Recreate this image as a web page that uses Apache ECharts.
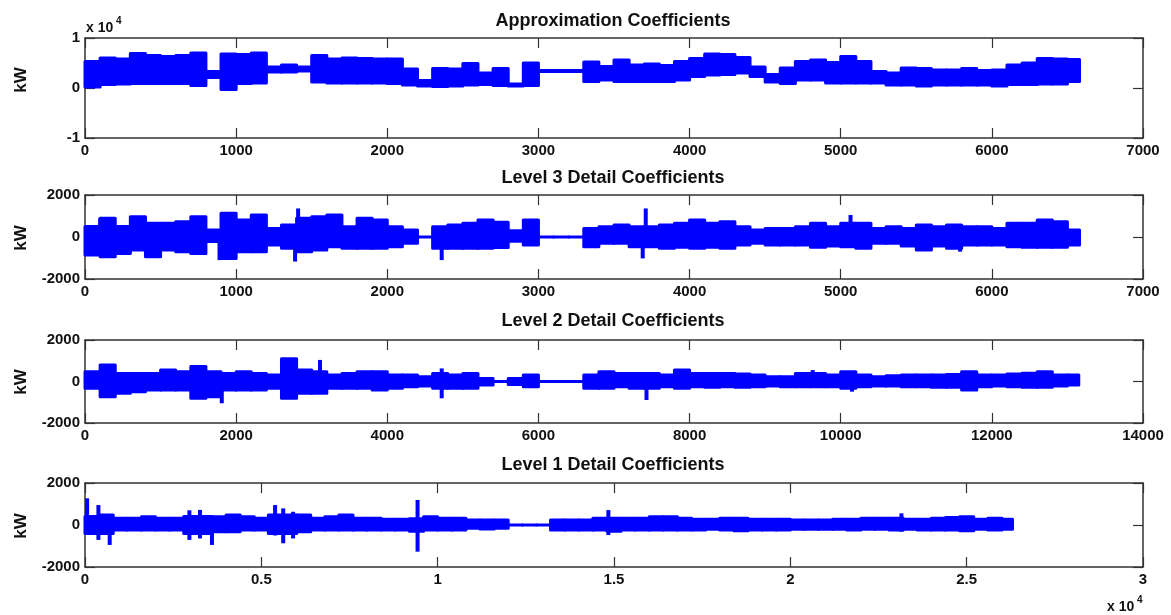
<!DOCTYPE html>
<html>
<head>
<meta charset="utf-8">
<title>Wavelet coefficients</title>
<script src="https://cdn.jsdelivr.net/npm/echarts@6.0.0/dist/echarts.min.js"></script>
<style>
  body { margin: 0; background: #fff; }
  #main { width: 1171px; height: 615px; }
</style>
</head>
<body>
<div id="main"></div>
<script>
const chart = echarts.init(document.getElementById('main'))

const BLUE = '#0000ff'
const AXIS_COLOR = '#333'
const TEXT_COLOR = '#111'
const FONT = '"Liberation Sans", Arial, sans-serif'

// Approximation coefficients (kW) - envelope per 100 samples
const approxStep = 100
const approxEnd = 6580
const approxHigh = [5300, 6000, 5800, 6900, 6500, 6300, 6500, 7000, 3300, 6800,
  6700, 7000, 4200, 4600, 4200, 6500, 5800, 6000, 5900, 5800,
  5800, 3800, 1500, 3900, 3800, 4900, 3000, 3900, 800, 5000,
  3500, 3500, 3500, 5200, 4300, 5600, 4600, 4800, 4500, 5300,
  5900, 6800, 6700, 6100, 4200, 2700, 4000, 5300, 5600, 5100,
  6300, 5300, 3300, 3000, 4000, 3900, 3600, 3600, 3900, 3500,
  3600, 4600, 5000, 5900, 5800, 5700]
const approxLow = [200, 700, 800, 900, 900, 900, 900, 500, 2100, -300,
  900, 1000, 3200, 3200, 3400, 1200, 1000, 1000, 1000, 1000,
  900, 600, 400, 300, 400, 600, 700, 500, 400, 500,
  3300, 3300, 3300, 1300, 1600, 1300, 1300, 1300, 1300, 1600,
  2300, 2600, 2700, 3000, 2300, 1200, 900, 1600, 1600, 1000,
  1000, 1000, 1000, 600, 600, 400, 600, 600, 600, 600,
  400, 700, 700, 800, 800, 1300]
const approxSpikes = []

// Level 3 detail (kW) - per 100 samples
const level3Step = 100
const level3End = 6580
const level3High = [500, 890, 500, 970, 650, 650, 730, 970, 330, 1130,
  810, 1050, 410, 570, 890, 970, 1050, 490, 890, 810,
  490, 330, 0, 490, 570, 650, 810, 700, 300, 810,
  0, 0, 0, 410, 490, 570, 490, 490, 570, 650,
  810, 650, 730, 490, 330, 410, 410, 490, 650, 490,
  650, 650, 410, 490, 410, 570, 490, 570, 490, 490,
  410, 650, 650, 810, 730, 330]
const level3Low = [-860, -940, -780, -620, -940, -620, -700, -780, -220, -1020,
  -700, -700, -380, -540, -700, -620, -460, -540, -540, -540,
  -460, -300, 0, -540, -540, -540, -540, -500, -200, -380,
  0, 0, 0, -460, -300, -300, -460, -460, -540, -490,
  -540, -490, -540, -380, -300, -380, -380, -380, -490, -430,
  -460, -540, -300, -300, -430, -620, -430, -540, -380, -380,
  -380, -460, -490, -490, -490, -380]
// [x, low, high]
const level3Spikes = [[100, -860, 890], [890, -1100, 330], [1390, -1170, 570], [1410, -700, 1360],
  [2360, -1100, 490], [3690, -1020, 490], [3710, -460, 1360], [5065, -460, 1050], [5790, -700, 570]]

// Level 2 detail (kW) - per 200 samples
const level2Step = 200
const level2End = 13150
const level2High = [470, 800, 390, 390, 390, 550, 470, 720, 470, 390,
  470, 390, 310, 1100, 550, 470, 310, 390, 470, 470,
  310, 310, 233, 390, 310, 390, 150, 0, 150, 310,
  0, 0, 0, 310, 470, 390, 390, 390, 310, 550,
  390, 390, 390, 360, 310, 233, 233, 390, 390, 310,
  470, 310, 233, 281, 310, 310, 310, 340, 470, 310,
  310, 362, 394, 474, 313, 313]
const level2Low = [-330, -730, -570, -490, -410, -410, -410, -810, -730, -410,
  -410, -410, -330, -810, -570, -570, -330, -330, -330, -410,
  -330, -250, -217, -330, -330, -330, -170, 0, -150, -250,
  0, 0, 0, -330, -330, -250, -330, -330, -250, -330,
  -250, -280, -250, -280, -250, -217, -250, -250, -250, -250,
  -330, -250, -217, -217, -250, -250, -280, -280, -410, -250,
  -217, -250, -281, -281, -217, -169]
const level2Spikes = [[1810, -1050, 390], [3110, -330, 1040], [4720, -810, 630],
  [7430, -890, 310], [9630, -250, 550], [10150, -490, 310]]

// Level 1 detail (kW) - per 400 samples
const level1Step = 400
const level1End = 26300
const level1High = [400, 480, 317, 317, 397, 317, 317, 400, 400, 397,
  476, 397, 317, 476, 476, 476, 317, 397, 476, 317,
  317, 270, 270, 300, 397, 317, 317, 238, 238, 238,
  0, 0, 0, 238, 238, 238, 317, 317, 317, 317,
  397, 397, 317, 270, 270, 317, 317, 270, 270, 270,
  238, 238, 238, 270, 270, 317, 317, 317, 270, 270,
  317, 360, 397, 270, 317, 270]
const level1Low = [-400, -400, -238, -238, -238, -238, -238, -400, -400, -317,
  -317, -238, -238, -400, -400, -320, -238, -238, -238, -238,
  -238, -238, -238, -300, -238, -238, -238, -159, -190, -159,
  0, 0, 0, -238, -238, -238, -238, -300, -238, -238,
  -238, -238, -238, -238, -206, -238, -270, -238, -238, -238,
  -206, -206, -206, -206, -238, -206, -206, -238, -206, -238,
  -238, -238, -270, -206, -238, -206]
const level1Spikes = [[60, -300, 1270], [380, -710, 950], [700, -950, 500], [2960, -710, 700],
  [3260, -640, 720], [3600, -950, 320], [5390, -500, 950], [5620, -870, 790], [5900, -640, 630],
  [9430, -1270, 1190], [14840, -480, 710], [23150, -320, 555]]

function blocks(high, low, step, end) {
  return high.map((h, i) => [i * step, Math.min((i + 1) * step, end), low[i], h])
}

function renderBlock(params, api) {
  const a = api.coord([api.value(0), api.value(3)])
  const b = api.coord([api.value(1), api.value(2)])
  return {
    type: 'rect',
    shape: { x: a[0], y: a[1], width: b[0] - a[0], height: b[1] - a[1] },
    style: { fill: BLUE, stroke: BLUE, lineWidth: 3, lineJoin: 'round' }
  }
}

function renderSpike(params, api) {
  const a = api.coord([api.value(0), api.value(2)])
  const b = api.coord([api.value(0), api.value(1)])
  return {
    type: 'line',
    shape: { x1: a[0], y1: a[1], x2: b[0], y2: b[1] },
    style: { stroke: BLUE, lineWidth: 4 }
  }
}

const panels = [
  { title: 'Approximation Coefficients', top: 38, height: 100, titleY: 21, kwY: 80,
    xMax: 7000, xInt: 1000, yMax: 10000, yInt: 10000, xFmt: v => v, yFmt: v => v / 10000,
    data: blocks(approxHigh, approxLow, approxStep, approxEnd), spikes: approxSpikes },
  { title: 'Level 3 Detail Coefficients', top: 195, height: 84, titleY: 178, kwY: 238,
    xMax: 7000, xInt: 1000, yMax: 2000, yInt: 2000, xFmt: v => v, yFmt: v => v,
    data: blocks(level3High, level3Low, level3Step, level3End), spikes: level3Spikes },
  { title: 'Level 2 Detail Coefficients', top: 340, height: 83, titleY: 321, kwY: 382,
    xMax: 14000, xInt: 2000, yMax: 2000, yInt: 2000, xFmt: v => v, yFmt: v => v,
    data: blocks(level2High, level2Low, level2Step, level2End), spikes: level2Spikes },
  { title: 'Level 1 Detail Coefficients', top: 483, height: 84, titleY: 465, kwY: 526,
    xMax: 30000, xInt: 5000, yMax: 2000, yInt: 2000, xFmt: v => v / 10000, yFmt: v => v,
    data: blocks(level1High, level1Low, level1Step, level1End), spikes: level1Spikes }
]

const grid = []
const xAxis = []
const yAxis = []
const series = []
const graphic = []

const axisLine = { onZero: false, lineStyle: { color: AXIS_COLOR, width: 1.5 } }
const axisTick = { inside: true, length: 10, lineStyle: { color: AXIS_COLOR, width: 1.2 } }
const axisLabel = { color: TEXT_COLOR, fontFamily: FONT, fontWeight: 'bold', fontSize: 15, margin: 5 }

function textEl(x, y, text, size, extra) {
  return Object.assign({
    type: 'text', x, y, silent: true,
    style: {
      text, fill: TEXT_COLOR, font: 'bold ' + size + 'px ' + FONT,
      align: 'center', textAlign: 'center', verticalAlign: 'middle', textVerticalAlign: 'middle'
    }
  }, extra || {})
}

panels.forEach((p, i) => {
  grid.push({ left: 85, right: 28, top: p.top, height: p.height })
  xAxis.push(
    { gridIndex: i, type: 'value', min: 0, max: p.xMax, interval: p.xInt,
      axisLine, axisTick, splitLine: { show: false },
      axisLabel: Object.assign({ formatter: p.xFmt }, axisLabel) },
    { gridIndex: i, type: 'value', position: 'top', min: 0, max: p.xMax, interval: p.xInt,
      axisLine, axisTick, splitLine: { show: false }, axisLabel: { show: false } }
  )
  yAxis.push(
    { gridIndex: i, type: 'value', min: -p.yMax, max: p.yMax, interval: p.yInt,
      axisLine, axisTick, splitLine: { show: false },
      axisLabel: Object.assign({ formatter: p.yFmt }, axisLabel) },
    { gridIndex: i, type: 'value', position: 'right', min: -p.yMax, max: p.yMax, interval: p.yInt,
      axisLine, axisTick, splitLine: { show: false }, axisLabel: { show: false } }
  )
  series.push(
    { type: 'custom', name: p.title, xAxisIndex: 2 * i, yAxisIndex: 2 * i, silent: true,
      renderItem: renderBlock, encode: { x: [0, 1], y: [2, 3] }, data: p.data },
    { type: 'custom', name: p.title + ' peaks', xAxisIndex: 2 * i, yAxisIndex: 2 * i, silent: true,
      renderItem: renderSpike, encode: { x: 0, y: [1, 2] }, data: p.spikes }
  )
  graphic.push(textEl(613, p.titleY, p.title, 18))
  graphic.push(textEl(21, p.kwY, 'kW', 17, { rotation: Math.PI / 2 }))
})

// x 10^4 multipliers
graphic.push(
  { type: 'text', x: 86, y: 28, silent: true,
    style: { text: 'x 10', fill: TEXT_COLOR, font: 'bold 14px ' + FONT, verticalAlign: 'middle', textVerticalAlign: 'middle' } },
  { type: 'text', x: 116, y: 21, silent: true,
    style: { text: '4', fill: TEXT_COLOR, font: 'bold 10px ' + FONT, verticalAlign: 'middle', textVerticalAlign: 'middle' } },
  { type: 'text', x: 1107, y: 607, silent: true,
    style: { text: 'x 10', fill: TEXT_COLOR, font: 'bold 14px ' + FONT, verticalAlign: 'middle', textVerticalAlign: 'middle' } },
  { type: 'text', x: 1137, y: 600, silent: true,
    style: { text: '4', fill: TEXT_COLOR, font: 'bold 10px ' + FONT, verticalAlign: 'middle', textVerticalAlign: 'middle' } }
)

const option = {
  animation: false,
  backgroundColor: '#fff',
  grid,
  xAxis,
  yAxis,
  series,
  graphic
}

chart.setOption(option)
</script>
</body>
</html>
